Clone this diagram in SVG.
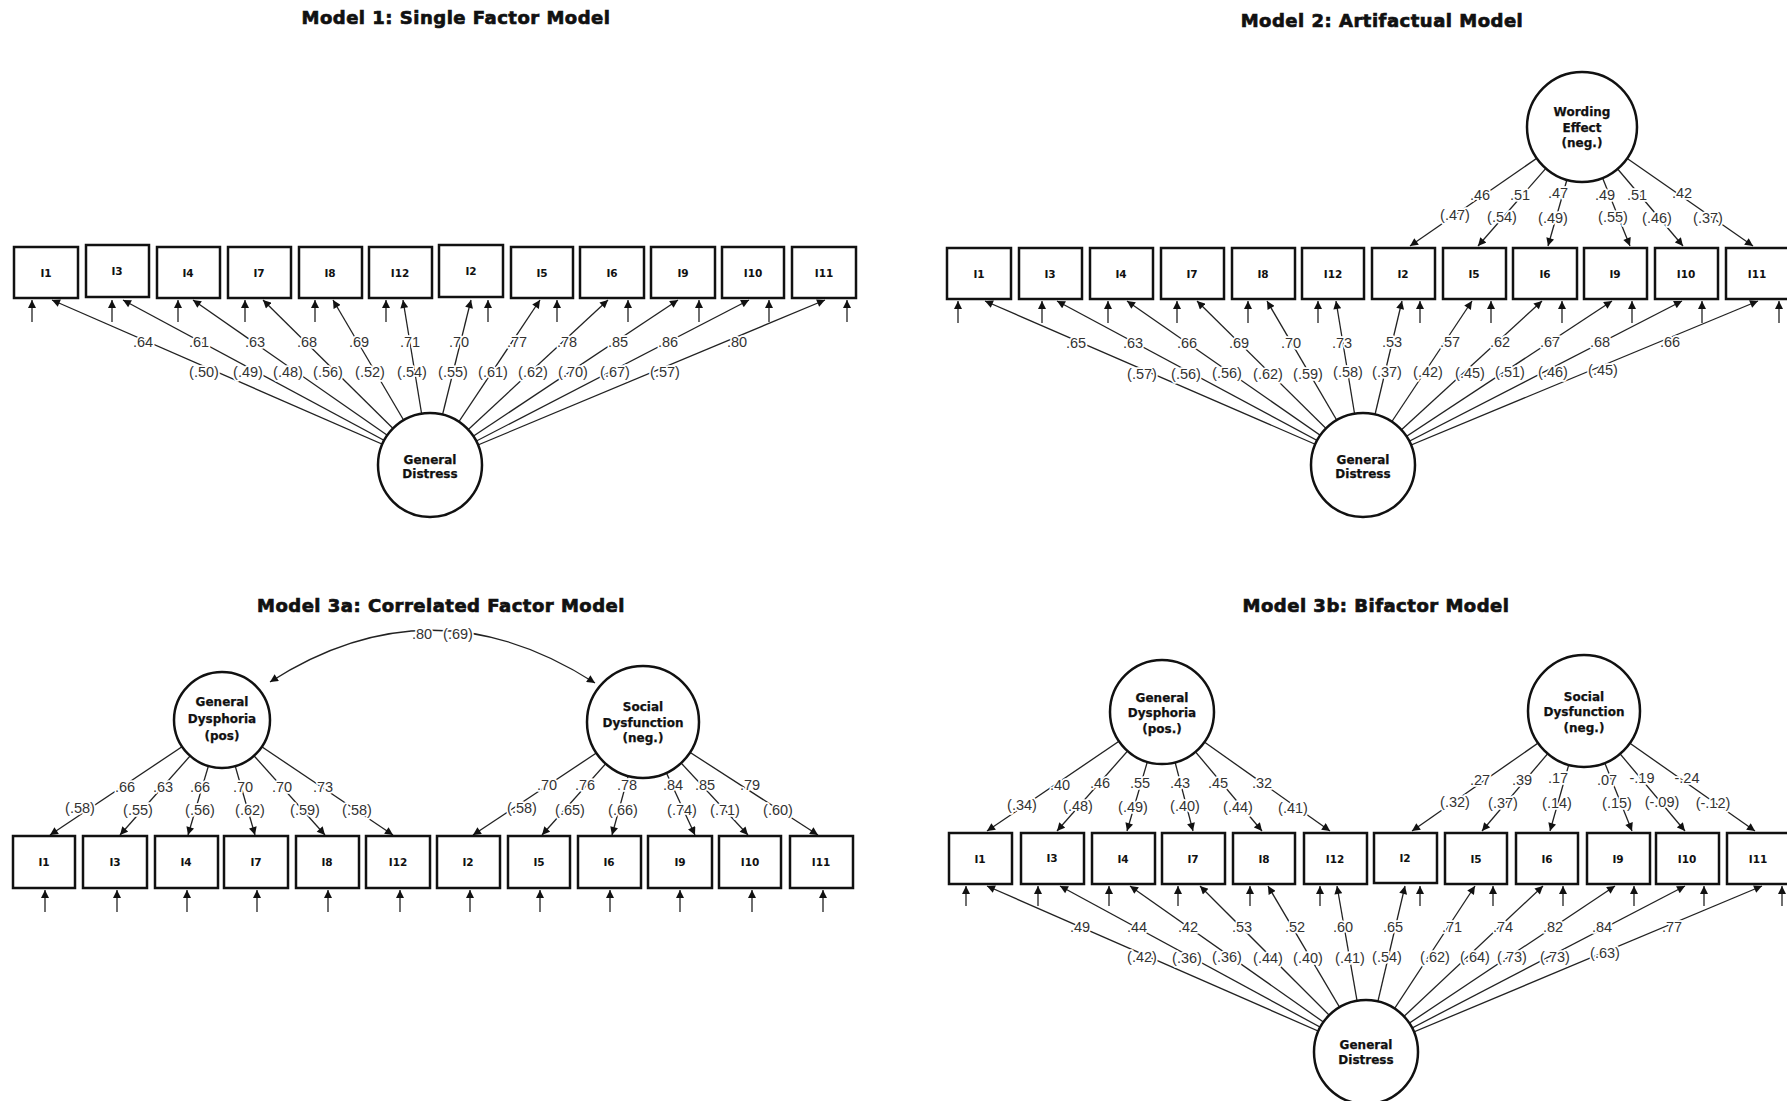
<svg xmlns="http://www.w3.org/2000/svg" width="1787" height="1101" viewBox="0 0 1787 1101">
<style>
.bg{fill:#fff}
.box{fill:#fff;stroke:#111;stroke-width:2.5}
.lat{fill:#fff;stroke:#111;stroke-width:2.5}
.cn line,.cn path{stroke:#222;stroke-width:1.3;fill:none}
.bt{font-family:"DejaVu Sans",sans-serif;font-weight:bold;font-size:10.5px;text-anchor:middle;dominant-baseline:central;fill:#111}
.ct{font-family:"DejaVu Sans",sans-serif;font-weight:bold;font-size:12px;text-anchor:middle;dominant-baseline:central;fill:#111;stroke:#111;stroke-width:0.25}
.lb{font-family:"Liberation Sans",Arial,sans-serif;font-size:14.5px;text-anchor:middle;dominant-baseline:central;fill:#333;stroke:#fff;stroke-width:3.5;stroke-linejoin:round;paint-order:stroke}
.ti{font-family:"DejaVu Sans",sans-serif;font-weight:bold;font-size:18px;text-anchor:middle;fill:#111;stroke:#111;stroke-width:0.7;letter-spacing:0.5px}
</style>
<defs>
<marker id="ah" viewBox="0 0 10 10" refX="10" refY="5" markerWidth="9" markerHeight="8" markerUnits="userSpaceOnUse" orient="auto-start-reverse"><path d="M0,0 L10,5 L0,10 z" fill="#111"/></marker>
</defs>
<rect class="bg" x="0" y="0" width="1787" height="1101"/>

<g id="titles">
<text class="ti" x="456" y="24">Model 1: Single Factor Model</text>
<text class="ti" x="1382" y="27">Model 2: Artifactual Model</text>
<text class="ti" x="441" y="612">Model 3a: Correlated Factor Model</text>
<text class="ti" x="1376" y="612">Model 3b: Bifactor Model</text>
</g>

<g id="connectors" class="cn" marker-end="url(#ah)">
<g id="m1-load">
<line x1="430" y1="465" x2="52" y2="300"/>
<line x1="430" y1="465" x2="123" y2="300"/>
<line x1="430" y1="465" x2="193" y2="300"/>
<line x1="430" y1="465" x2="263" y2="300"/>
<line x1="430" y1="465" x2="333" y2="300"/>
<line x1="430" y1="465" x2="403" y2="300"/>
<line x1="430" y1="465" x2="471" y2="300"/>
<line x1="430" y1="465" x2="540" y2="300"/>
<line x1="430" y1="465" x2="608" y2="300"/>
<line x1="430" y1="465" x2="678" y2="300"/>
<line x1="430" y1="465" x2="749" y2="300"/>
<line x1="430" y1="465" x2="825" y2="300"/>
</g>
<g id="m1-err">
<line x1="32" y1="322" x2="32" y2="300"/>
<line x1="112" y1="322" x2="112" y2="300"/>
<line x1="178" y1="322" x2="178" y2="300"/>
<line x1="245" y1="322" x2="245" y2="300"/>
<line x1="315" y1="322" x2="315" y2="300"/>
<line x1="386" y1="322" x2="386" y2="300"/>
<line x1="488" y1="322" x2="488" y2="300"/>
<line x1="557" y1="322" x2="557" y2="300"/>
<line x1="628" y1="322" x2="628" y2="300"/>
<line x1="699" y1="322" x2="699" y2="300"/>
<line x1="769" y1="322" x2="769" y2="300"/>
<line x1="847" y1="322" x2="847" y2="300"/>
</g>
<g id="m2-we">
<line x1="1582" y1="127" x2="1410" y2="246"/>
<line x1="1582" y1="127" x2="1478" y2="246"/>
<line x1="1582" y1="127" x2="1548" y2="246"/>
<line x1="1582" y1="127" x2="1630" y2="246"/>
<line x1="1582" y1="127" x2="1683" y2="246"/>
<line x1="1582" y1="127" x2="1753" y2="246"/>
</g>
<g id="m2-load">
<line x1="1363" y1="465" x2="985" y2="301"/>
<line x1="1363" y1="465" x2="1057" y2="301"/>
<line x1="1363" y1="465" x2="1127" y2="301"/>
<line x1="1363" y1="465" x2="1197" y2="301"/>
<line x1="1363" y1="465" x2="1267" y2="301"/>
<line x1="1363" y1="465" x2="1336" y2="301"/>
<line x1="1363" y1="465" x2="1402" y2="301"/>
<line x1="1363" y1="465" x2="1472" y2="301"/>
<line x1="1363" y1="465" x2="1542" y2="301"/>
<line x1="1363" y1="465" x2="1612" y2="301"/>
<line x1="1363" y1="465" x2="1682" y2="301"/>
<line x1="1363" y1="465" x2="1758" y2="301"/>
</g>
<g id="m2-err">
<line x1="958" y1="323" x2="958" y2="301"/>
<line x1="1042" y1="323" x2="1042" y2="301"/>
<line x1="1108" y1="323" x2="1108" y2="301"/>
<line x1="1177" y1="323" x2="1177" y2="301"/>
<line x1="1248" y1="323" x2="1248" y2="301"/>
<line x1="1318" y1="323" x2="1318" y2="301"/>
<line x1="1420" y1="323" x2="1420" y2="301"/>
<line x1="1491" y1="323" x2="1491" y2="301"/>
<line x1="1562" y1="323" x2="1562" y2="301"/>
<line x1="1632" y1="323" x2="1632" y2="301"/>
<line x1="1702" y1="323" x2="1702" y2="301"/>
<line x1="1779" y1="323" x2="1779" y2="301"/>
</g>
<g id="m3a-load">
<line x1="222" y1="720" x2="50" y2="835"/>
<line x1="222" y1="720" x2="120" y2="835"/>
<line x1="222" y1="720" x2="188" y2="835"/>
<line x1="222" y1="720" x2="255" y2="835"/>
<line x1="222" y1="720" x2="325" y2="835"/>
<line x1="222" y1="720" x2="393" y2="835"/>
<line x1="643" y1="722" x2="473" y2="835"/>
<line x1="643" y1="722" x2="542" y2="835"/>
<line x1="643" y1="722" x2="612" y2="835"/>
<line x1="643" y1="722" x2="695" y2="835"/>
<line x1="643" y1="722" x2="748" y2="835"/>
<line x1="643" y1="722" x2="818" y2="835"/>
</g>
<path id="m3a-corr" d="M270,682 Q432,578 595,683" marker-start="url(#ah)"/>
<g id="m3a-err">
<line x1="45" y1="912" x2="45" y2="890"/>
<line x1="117" y1="912" x2="117" y2="890"/>
<line x1="187" y1="912" x2="187" y2="890"/>
<line x1="257" y1="912" x2="257" y2="890"/>
<line x1="328" y1="912" x2="328" y2="890"/>
<line x1="400" y1="912" x2="400" y2="890"/>
<line x1="470" y1="912" x2="470" y2="890"/>
<line x1="540" y1="912" x2="540" y2="890"/>
<line x1="610" y1="912" x2="610" y2="890"/>
<line x1="680" y1="912" x2="680" y2="890"/>
<line x1="752" y1="912" x2="752" y2="890"/>
<line x1="823" y1="912" x2="823" y2="890"/>
</g>
<g id="m3b-top">
<line x1="1162" y1="712" x2="987" y2="831"/>
<line x1="1162" y1="712" x2="1057" y2="831"/>
<line x1="1162" y1="712" x2="1127" y2="831"/>
<line x1="1162" y1="712" x2="1193" y2="831"/>
<line x1="1162" y1="712" x2="1262" y2="831"/>
<line x1="1162" y1="712" x2="1330" y2="831"/>
<line x1="1584" y1="711" x2="1412" y2="831"/>
<line x1="1584" y1="711" x2="1482" y2="831"/>
<line x1="1584" y1="711" x2="1550" y2="831"/>
<line x1="1584" y1="711" x2="1632" y2="831"/>
<line x1="1584" y1="711" x2="1685" y2="831"/>
<line x1="1584" y1="711" x2="1755" y2="831"/>
</g>
<g id="m3b-load">
<line x1="1366" y1="1052" x2="987" y2="886"/>
<line x1="1366" y1="1052" x2="1060" y2="886"/>
<line x1="1366" y1="1052" x2="1130" y2="886"/>
<line x1="1366" y1="1052" x2="1200" y2="886"/>
<line x1="1366" y1="1052" x2="1268" y2="886"/>
<line x1="1366" y1="1052" x2="1337" y2="886"/>
<line x1="1366" y1="1052" x2="1405" y2="886"/>
<line x1="1366" y1="1052" x2="1475" y2="886"/>
<line x1="1366" y1="1052" x2="1543" y2="886"/>
<line x1="1366" y1="1052" x2="1615" y2="886"/>
<line x1="1366" y1="1052" x2="1685" y2="886"/>
<line x1="1366" y1="1052" x2="1762" y2="886"/>
</g>
<g id="m3b-err">
<line x1="966" y1="906" x2="966" y2="886"/>
<line x1="1038" y1="906" x2="1038" y2="886"/>
<line x1="1109" y1="906" x2="1109" y2="886"/>
<line x1="1178" y1="906" x2="1178" y2="886"/>
<line x1="1250" y1="906" x2="1250" y2="886"/>
<line x1="1320" y1="906" x2="1320" y2="886"/>
<line x1="1420" y1="906" x2="1420" y2="886"/>
<line x1="1493" y1="906" x2="1493" y2="886"/>
<line x1="1563" y1="906" x2="1563" y2="886"/>
<line x1="1634" y1="906" x2="1634" y2="886"/>
<line x1="1704" y1="906" x2="1704" y2="886"/>
<line x1="1782" y1="906" x2="1782" y2="886"/>
</g>
</g>

<g id="labels">
<text class="lb" x="143" y="342">.64</text>
<text class="lb" x="199" y="342">.61</text>
<text class="lb" x="255" y="342">.63</text>
<text class="lb" x="307" y="342">.68</text>
<text class="lb" x="359" y="342">.69</text>
<text class="lb" x="410" y="342">.71</text>
<text class="lb" x="459" y="342">.70</text>
<text class="lb" x="517" y="342">.77</text>
<text class="lb" x="567" y="342">.78</text>
<text class="lb" x="618" y="342">.85</text>
<text class="lb" x="668" y="342">.86</text>
<text class="lb" x="737" y="342">.80</text>
<text class="lb" x="204" y="372">(.50)</text>
<text class="lb" x="248" y="372">(.49)</text>
<text class="lb" x="288" y="372">(.48)</text>
<text class="lb" x="328" y="372">(.56)</text>
<text class="lb" x="370" y="372">(.52)</text>
<text class="lb" x="412" y="372">(.54)</text>
<text class="lb" x="453" y="372">(.55)</text>
<text class="lb" x="493" y="372">(.61)</text>
<text class="lb" x="533" y="372">(.62)</text>
<text class="lb" x="573" y="372">(.70)</text>
<text class="lb" x="615" y="372">(.67)</text>
<text class="lb" x="665" y="372">(.57)</text>
<text class="lb" x="1480" y="195">.46</text>
<text class="lb" x="1520" y="195">.51</text>
<text class="lb" x="1558" y="193">.47</text>
<text class="lb" x="1605" y="195">.49</text>
<text class="lb" x="1637" y="195">.51</text>
<text class="lb" x="1682" y="193">.42</text>
<text class="lb" x="1455" y="215">(.47)</text>
<text class="lb" x="1502" y="217">(.54)</text>
<text class="lb" x="1553" y="218">(.49)</text>
<text class="lb" x="1613" y="217">(.55)</text>
<text class="lb" x="1657" y="218">(.46)</text>
<text class="lb" x="1708" y="218">(.37)</text>
<text class="lb" x="1076" y="343">.65</text>
<text class="lb" x="1133" y="343">.63</text>
<text class="lb" x="1187" y="343">.66</text>
<text class="lb" x="1239" y="343">.69</text>
<text class="lb" x="1291" y="343">.70</text>
<text class="lb" x="1342" y="343">.73</text>
<text class="lb" x="1392" y="342">.53</text>
<text class="lb" x="1450" y="342">.57</text>
<text class="lb" x="1500" y="342">.62</text>
<text class="lb" x="1550" y="342">.67</text>
<text class="lb" x="1600" y="342">.68</text>
<text class="lb" x="1670" y="342">.66</text>
<text class="lb" x="1142" y="374">(.57)</text>
<text class="lb" x="1186" y="374">(.56)</text>
<text class="lb" x="1227" y="373">(.56)</text>
<text class="lb" x="1268" y="374">(.62)</text>
<text class="lb" x="1308" y="374">(.59)</text>
<text class="lb" x="1348" y="372">(.58)</text>
<text class="lb" x="1387" y="372">(.37)</text>
<text class="lb" x="1428" y="372">(.42)</text>
<text class="lb" x="1470" y="373">(.45)</text>
<text class="lb" x="1510" y="372">(.51)</text>
<text class="lb" x="1553" y="372">(.46)</text>
<text class="lb" x="1603" y="370">(.45)</text>
<text class="lb" x="125" y="787">.66</text>
<text class="lb" x="163" y="787">.63</text>
<text class="lb" x="200" y="787">.66</text>
<text class="lb" x="243" y="787">.70</text>
<text class="lb" x="282" y="787">.70</text>
<text class="lb" x="323" y="787">.73</text>
<text class="lb" x="80" y="808">(.58)</text>
<text class="lb" x="138" y="810">(.55)</text>
<text class="lb" x="200" y="810">(.56)</text>
<text class="lb" x="250" y="810">(.62)</text>
<text class="lb" x="305" y="810">(.59)</text>
<text class="lb" x="357" y="810">(.58)</text>
<text class="lb" x="547" y="785">.70</text>
<text class="lb" x="585" y="785">.76</text>
<text class="lb" x="627" y="785">.78</text>
<text class="lb" x="673" y="785">.84</text>
<text class="lb" x="705" y="785">.85</text>
<text class="lb" x="750" y="785">.79</text>
<text class="lb" x="522" y="808">(.58)</text>
<text class="lb" x="570" y="810">(.65)</text>
<text class="lb" x="623" y="810">(.66)</text>
<text class="lb" x="682" y="810">(.74)</text>
<text class="lb" x="725" y="810">(.71)</text>
<text class="lb" x="778" y="810">(.60)</text>
<text class="lb" x="422" y="634">.80</text>
<text class="lb" x="458" y="634">(.69)</text>
<text class="lb" x="1060" y="785">.40</text>
<text class="lb" x="1100" y="783">.46</text>
<text class="lb" x="1140" y="783">.55</text>
<text class="lb" x="1180" y="783">.43</text>
<text class="lb" x="1218" y="783">.45</text>
<text class="lb" x="1262" y="783">.32</text>
<text class="lb" x="1022" y="805">(.34)</text>
<text class="lb" x="1078" y="806">(.48)</text>
<text class="lb" x="1133" y="807">(.49)</text>
<text class="lb" x="1185" y="806">(.40)</text>
<text class="lb" x="1238" y="807">(.44)</text>
<text class="lb" x="1293" y="808">(.41)</text>
<text class="lb" x="1480" y="780">.27</text>
<text class="lb" x="1522" y="780">.39</text>
<text class="lb" x="1558" y="778">.17</text>
<text class="lb" x="1607" y="780">.07</text>
<text class="lb" x="1642" y="778">-.19</text>
<text class="lb" x="1687" y="778">-.24</text>
<text class="lb" x="1455" y="802">(.32)</text>
<text class="lb" x="1503" y="803">(.37)</text>
<text class="lb" x="1557" y="803">(.14)</text>
<text class="lb" x="1617" y="803">(.15)</text>
<text class="lb" x="1662" y="802">(-.09)</text>
<text class="lb" x="1713" y="803">(-.12)</text>
<text class="lb" x="1080" y="927">.49</text>
<text class="lb" x="1137" y="927">.44</text>
<text class="lb" x="1188" y="927">.42</text>
<text class="lb" x="1242" y="927">.53</text>
<text class="lb" x="1295" y="927">.52</text>
<text class="lb" x="1343" y="927">.60</text>
<text class="lb" x="1393" y="927">.65</text>
<text class="lb" x="1452" y="927">.71</text>
<text class="lb" x="1503" y="927">.74</text>
<text class="lb" x="1553" y="927">.82</text>
<text class="lb" x="1602" y="927">.84</text>
<text class="lb" x="1672" y="927">.77</text>
<text class="lb" x="1142" y="957">(.42)</text>
<text class="lb" x="1187" y="958">(.36)</text>
<text class="lb" x="1227" y="957">(.36)</text>
<text class="lb" x="1268" y="958">(.44)</text>
<text class="lb" x="1308" y="958">(.40)</text>
<text class="lb" x="1350" y="958">(.41)</text>
<text class="lb" x="1387" y="957">(.54)</text>
<text class="lb" x="1435" y="957">(.62)</text>
<text class="lb" x="1475" y="957">(.64)</text>
<text class="lb" x="1512" y="957">(.73)</text>
<text class="lb" x="1555" y="957">(.73)</text>
<text class="lb" x="1605" y="953">(.63)</text>
</g>

<g id="m1-GD"><circle class="lat" cx="430" cy="465" r="52"/><text class="ct" x="430" y="460">General</text><text class="ct" x="430" y="474">Distress</text></g>
<g id="m1-I1"><rect class="box" x="14" y="247" width="64" height="51"/><text class="bt" x="46" y="273">I1</text></g>
<g id="m1-I3"><rect class="box" x="86" y="245" width="63" height="52"/><text class="bt" x="117" y="271">I3</text></g>
<g id="m1-I4"><rect class="box" x="157" y="247" width="63" height="51"/><text class="bt" x="188" y="273">I4</text></g>
<g id="m1-I7"><rect class="box" x="228" y="247" width="63" height="51"/><text class="bt" x="259" y="273">I7</text></g>
<g id="m1-I8"><rect class="box" x="299" y="247" width="63" height="51"/><text class="bt" x="330" y="273">I8</text></g>
<g id="m1-I12"><rect class="box" x="369" y="247" width="63" height="51"/><text class="bt" x="400" y="273">I12</text></g>
<g id="m1-I2"><rect class="box" x="439" y="245" width="64" height="52"/><text class="bt" x="471" y="271">I2</text></g>
<g id="m1-I5"><rect class="box" x="511" y="247" width="62" height="51"/><text class="bt" x="542" y="273">I5</text></g>
<g id="m1-I6"><rect class="box" x="580" y="247" width="64" height="51"/><text class="bt" x="612" y="273">I6</text></g>
<g id="m1-I9"><rect class="box" x="651" y="247" width="64" height="51"/><text class="bt" x="683" y="273">I9</text></g>
<g id="m1-I10"><rect class="box" x="722" y="247" width="62" height="51"/><text class="bt" x="753" y="273">I10</text></g>
<g id="m1-I11"><rect class="box" x="792" y="247" width="64" height="51"/><text class="bt" x="824" y="273">I11</text></g>

<g id="m2-WE"><circle class="lat" cx="1582" cy="127" r="55"/><text class="ct" x="1582" y="112">Wording</text><text class="ct" x="1582" y="128">Effect</text><text class="ct" x="1582" y="143">(neg.)</text></g>
<g id="m2-GD"><circle class="lat" cx="1363" cy="465" r="52"/><text class="ct" x="1363" y="460">General</text><text class="ct" x="1363" y="474">Distress</text></g>
<g id="m2-I1"><rect class="box" x="947" y="248" width="64" height="51"/><text class="bt" x="979" y="274">I1</text></g>
<g id="m2-I3"><rect class="box" x="1019" y="248" width="63" height="51"/><text class="bt" x="1050" y="274">I3</text></g>
<g id="m2-I4"><rect class="box" x="1090" y="248" width="63" height="51"/><text class="bt" x="1121" y="274">I4</text></g>
<g id="m2-I7"><rect class="box" x="1161" y="248" width="63" height="51"/><text class="bt" x="1192" y="274">I7</text></g>
<g id="m2-I8"><rect class="box" x="1232" y="248" width="63" height="51"/><text class="bt" x="1263" y="274">I8</text></g>
<g id="m2-I12"><rect class="box" x="1302" y="248" width="62" height="51"/><text class="bt" x="1333" y="274">I12</text></g>
<g id="m2-I2"><rect class="box" x="1372" y="248" width="63" height="51"/><text class="bt" x="1403" y="274">I2</text></g>
<g id="m2-I5"><rect class="box" x="1443" y="248" width="63" height="51"/><text class="bt" x="1474" y="274">I5</text></g>
<g id="m2-I6"><rect class="box" x="1513" y="248" width="64" height="51"/><text class="bt" x="1545" y="274">I6</text></g>
<g id="m2-I9"><rect class="box" x="1584" y="248" width="63" height="51"/><text class="bt" x="1615" y="274">I9</text></g>
<g id="m2-I10"><rect class="box" x="1655" y="248" width="63" height="51"/><text class="bt" x="1686" y="274">I10</text></g>
<g id="m2-I11"><rect class="box" x="1726" y="248" width="64" height="51"/><text class="bt" x="1757" y="274">I11</text></g>

<g id="m3a-GD"><circle class="lat" cx="222" cy="720" r="48"/><text class="ct" x="222" y="702">General</text><text class="ct" x="222" y="719">Dysphoria</text><text class="ct" x="222" y="736">(pos)</text></g>
<g id="m3a-SD"><circle class="lat" cx="643" cy="722" r="56"/><text class="ct" x="643" y="707">Social</text><text class="ct" x="643" y="723">Dysfunction</text><text class="ct" x="643" y="738">(neg.)</text></g>
<g id="m3a-I1"><rect class="box" x="13" y="836" width="62" height="52"/><text class="bt" x="44" y="862">I1</text></g>
<g id="m3a-I3"><rect class="box" x="83" y="836" width="64" height="52"/><text class="bt" x="115" y="862">I3</text></g>
<g id="m3a-I4"><rect class="box" x="155" y="836" width="63" height="52"/><text class="bt" x="186" y="862">I4</text></g>
<g id="m3a-I7"><rect class="box" x="224" y="836" width="64" height="52"/><text class="bt" x="256" y="862">I7</text></g>
<g id="m3a-I8"><rect class="box" x="296" y="836" width="63" height="52"/><text class="bt" x="327" y="862">I8</text></g>
<g id="m3a-I12"><rect class="box" x="366" y="836" width="64" height="52"/><text class="bt" x="398" y="862">I12</text></g>
<g id="m3a-I2"><rect class="box" x="437" y="836" width="63" height="52"/><text class="bt" x="468" y="862">I2</text></g>
<g id="m3a-I5"><rect class="box" x="508" y="836" width="62" height="52"/><text class="bt" x="539" y="862">I5</text></g>
<g id="m3a-I6"><rect class="box" x="578" y="836" width="63" height="52"/><text class="bt" x="609" y="862">I6</text></g>
<g id="m3a-I9"><rect class="box" x="648" y="836" width="64" height="52"/><text class="bt" x="680" y="862">I9</text></g>
<g id="m3a-I10"><rect class="box" x="719" y="836" width="62" height="52"/><text class="bt" x="750" y="862">I10</text></g>
<g id="m3a-I11"><rect class="box" x="790" y="836" width="63" height="52"/><text class="bt" x="821" y="862">I11</text></g>

<g id="m3b-GDys"><circle class="lat" cx="1162" cy="712" r="52"/><text class="ct" x="1162" y="698">General</text><text class="ct" x="1162" y="713">Dysphoria</text><text class="ct" x="1162" y="729">(pos.)</text></g>
<g id="m3b-SD"><circle class="lat" cx="1584" cy="711" r="56"/><text class="ct" x="1584" y="697">Social</text><text class="ct" x="1584" y="712">Dysfunction</text><text class="ct" x="1584" y="728">(neg.)</text></g>
<g id="m3b-GD"><circle class="lat" cx="1366" cy="1052" r="52"/><text class="ct" x="1366" y="1045">General</text><text class="ct" x="1366" y="1060">Distress</text></g>
<g id="m3b-I1"><rect class="box" x="949" y="833" width="63" height="51"/><text class="bt" x="980" y="859">I1</text></g>
<g id="m3b-I3"><rect class="box" x="1021" y="833" width="63" height="51"/><text class="bt" x="1052" y="858">I3</text></g>
<g id="m3b-I4"><rect class="box" x="1092" y="833" width="63" height="51"/><text class="bt" x="1123" y="859">I4</text></g>
<g id="m3b-I7"><rect class="box" x="1162" y="833" width="63" height="51"/><text class="bt" x="1193" y="859">I7</text></g>
<g id="m3b-I8"><rect class="box" x="1233" y="833" width="62" height="51"/><text class="bt" x="1264" y="859">I8</text></g>
<g id="m3b-I12"><rect class="box" x="1304" y="833" width="63" height="51"/><text class="bt" x="1335" y="859">I12</text></g>
<g id="m3b-I2"><rect class="box" x="1374" y="833" width="63" height="50"/><text class="bt" x="1405" y="858">I2</text></g>
<g id="m3b-I5"><rect class="box" x="1445" y="833" width="62" height="51"/><text class="bt" x="1476" y="859">I5</text></g>
<g id="m3b-I6"><rect class="box" x="1516" y="833" width="62" height="51"/><text class="bt" x="1547" y="859">I6</text></g>
<g id="m3b-I9"><rect class="box" x="1587" y="833" width="63" height="51"/><text class="bt" x="1618" y="859">I9</text></g>
<g id="m3b-I10"><rect class="box" x="1656" y="833" width="63" height="51"/><text class="bt" x="1687" y="859">I10</text></g>
<g id="m3b-I11"><rect class="box" x="1727" y="833" width="63" height="51"/><text class="bt" x="1758" y="859">I11</text></g>
</svg>
